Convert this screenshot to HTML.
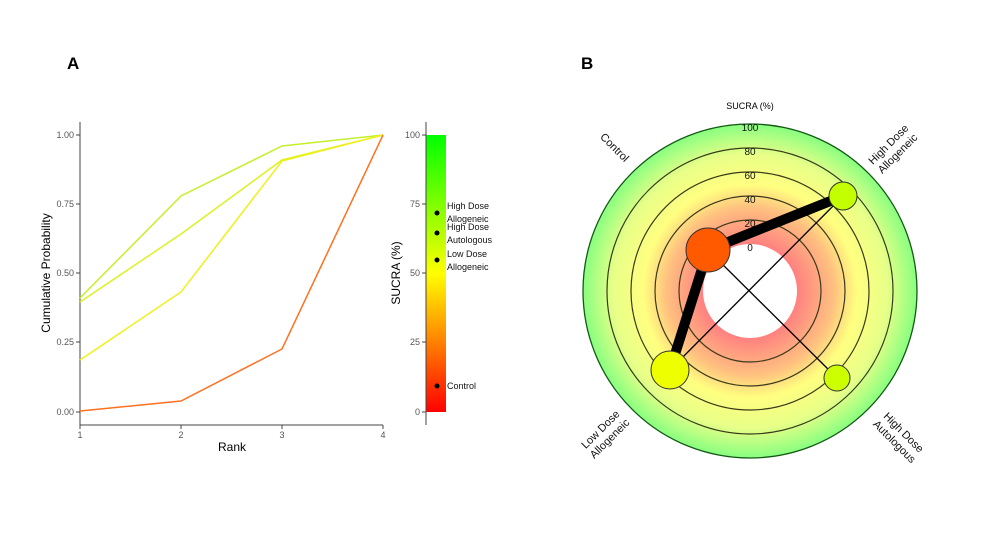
<!DOCTYPE html>
<html><head><style>
body{margin:0;background:#fff;}
svg{display:block;font-family:"Liberation Sans",sans-serif;}
</style></head><body>
<svg width="986" height="538" viewBox="0 0 986 538">
<defs>
<linearGradient id="cb" x1="0" y1="1" x2="0" y2="0">
<stop offset="0" stop-color="#ff0000"/><stop offset="0.5" stop-color="#ffff00"/><stop offset="1" stop-color="#00ff00"/>
</linearGradient>
<radialGradient id="rg" cx="750" cy="291" r="167" gradientUnits="userSpaceOnUse">
<stop offset="0.28" stop-color="#ff8080"/>
<stop offset="0.5" stop-color="#ffc080"/>
<stop offset="0.64" stop-color="#ffff80"/>
<stop offset="0.82" stop-color="#e8ff88"/>
<stop offset="1" stop-color="#88ff80"/>
</radialGradient>
</defs>
<text x="67" y="69" font-size="17" font-weight="bold">A</text>
<text x="581" y="69" font-size="17" font-weight="bold">B</text>
<g stroke="#444" stroke-width="1" fill="none">
<line x1="80" y1="122" x2="80" y2="425"/><line x1="80" y1="425" x2="383" y2="425"/>
<line x1="76" y1="135" x2="80" y2="135"/><line x1="76" y1="204" x2="80" y2="204"/><line x1="76" y1="273" x2="80" y2="273"/><line x1="76" y1="342" x2="80" y2="342"/><line x1="76" y1="412" x2="80" y2="412"/>
<line x1="80" y1="425" x2="80" y2="429"/><line x1="181" y1="425" x2="181" y2="429"/><line x1="282" y1="425" x2="282" y2="429"/><line x1="383" y1="425" x2="383" y2="429"/>
</g>
<g font-size="9" fill="#555" text-anchor="end">
<text x="74" y="138">1.00</text><text x="74" y="207">0.75</text><text x="74" y="276">0.50</text><text x="74" y="345">0.25</text><text x="74" y="415">0.00</text>
</g>
<g font-size="9" fill="#555" text-anchor="middle">
<text x="80" y="438">1</text><text x="181" y="438">2</text><text x="282" y="438">3</text><text x="383" y="438">4</text>
</g>
<text x="232" y="451" font-size="12" text-anchor="middle">Rank</text>
<text transform="translate(50,273) rotate(-90)" font-size="12" text-anchor="middle">Cumulative Probability</text>
<g fill="none" stroke-width="1.5">
<polyline points="80,298 181,196 282,146 383,135" stroke="#c4f02a"/>
<polyline points="80,302 181,234 282,160 383,135" stroke="#dcf220"/>
<polyline points="80,360 181,292 282,161 383,135" stroke="#f0f01a"/>
<polyline points="80,411 181,401 282,349 383,135" stroke="#ff7020"/>
</g>
<rect x="426" y="135" width="20" height="277" fill="url(#cb)"/>
<g stroke="#444"><line x1="426" y1="122" x2="426" y2="425"/>
<line x1="422" y1="135" x2="426" y2="135"/><line x1="422" y1="204" x2="426" y2="204"/><line x1="422" y1="273" x2="426" y2="273"/><line x1="422" y1="342" x2="426" y2="342"/><line x1="422" y1="412" x2="426" y2="412"/></g>
<g font-size="9" fill="#555" text-anchor="end">
<text x="420" y="138">100</text><text x="420" y="207">75</text><text x="420" y="276">50</text><text x="420" y="345">25</text><text x="420" y="415">0</text>
</g>
<text transform="translate(400,273) rotate(-90)" font-size="12" text-anchor="middle">SUCRA (%)</text>
<g fill="#000"><circle cx="437" cy="213" r="2.5"/><circle cx="437" cy="233" r="2.5"/><circle cx="437" cy="260" r="2.5"/><circle cx="437" cy="386" r="2.5"/></g>
<g font-size="9" fill="#111">
<text x="447" y="209">High Dose</text><text x="447" y="222">Allogeneic</text>
<text x="447" y="230">High Dose</text><text x="447" y="243">Autologous</text>
<text x="447" y="257">Low Dose</text><text x="447" y="270">Allogeneic</text>
<text x="447" y="389">Control</text>
</g>
<circle cx="750" cy="291" r="167" fill="url(#rg)" stroke="#145a14" stroke-width="1.3"/>
<g fill="none" stroke="#3a3a1a" stroke-width="1.2">
<circle cx="750" cy="291" r="143"/><circle cx="750" cy="291" r="119"/><circle cx="750" cy="291" r="95"/><circle cx="750" cy="291" r="71"/>
</g>
<circle cx="750" cy="291" r="47" fill="#fff"/>
<g font-size="10" fill="#111" text-anchor="middle">
<text x="750" y="131">100</text><text x="750" y="155">80</text><text x="750" y="179">60</text><text x="750" y="203">40</text><text x="750" y="227">20</text><text x="750" y="251">0</text>
</g>
<text x="750" y="109" font-size="9" text-anchor="middle">SUCRA (%)</text>
<g stroke="#000" stroke-width="1.3">
<line x1="843" y1="196" x2="670" y2="370"/><line x1="708" y1="250" x2="837" y2="378"/>
</g>
<polyline points="843,196 708,250 670,370" fill="none" stroke="#000" stroke-width="10" stroke-linejoin="miter"/>
<g stroke="#333" stroke-width="1">
<circle cx="843" cy="196" r="14" fill="#c4ff00"/>
<circle cx="708" cy="250" r="22" fill="#ff5a00"/>
<circle cx="670" cy="370" r="19" fill="#eeff00"/>
<circle cx="837" cy="378" r="13" fill="#ccff00"/>
</g>
<g font-size="11" fill="#111" text-anchor="middle">
<text transform="translate(612,150) rotate(45)">Control</text>
<text transform="translate(891,147) rotate(-45)"><tspan x="0" y="0">High Dose</tspan><tspan x="0" y="13">Allogeneic</tspan></text>
<text transform="translate(603,432) rotate(-45)"><tspan x="0" y="0">Low Dose</tspan><tspan x="0" y="13">Allogeneic</tspan></text>
<text transform="translate(901,435) rotate(45)"><tspan x="0" y="0">High Dose</tspan><tspan x="0" y="13">Autologous</tspan></text>
</g>
</svg>
</body></html>
